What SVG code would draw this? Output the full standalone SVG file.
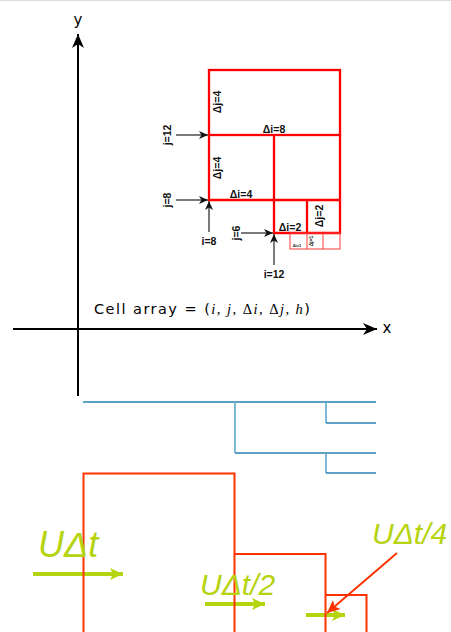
<svg xmlns="http://www.w3.org/2000/svg" width="451" height="632" viewBox="0 0 451 632">
<style>
.ax{stroke:#000;stroke-width:2;fill:none}
.ar{stroke:#222;stroke-width:1.2;fill:none}
.rd{stroke:#ff0000;stroke-width:2.3;fill:none}
.rdl{stroke:#ff3a3a;stroke-width:1;fill:none}
.lb{font-family:"Liberation Sans",Arial,sans-serif;font-size:10.5px;font-weight:bold;fill:#111;text-anchor:middle}
.tr{stroke-width:1.6;fill:none}
.hz{stroke:#2a80b2}
.vt{stroke:#5aaacd}
.og{stroke:#ff3300;stroke-width:2;fill:none}
.gr{stroke:#b5d30f;stroke-width:4;fill:none}
.gt{font-family:"Liberation Sans",Arial,sans-serif;font-style:italic;fill:#b5d30f}
</style>
<defs>
<marker id="axh" markerUnits="userSpaceOnUse" markerWidth="16" markerHeight="12" refX="14" refY="6" orient="auto">
<path d="M0,0 L14,6 L0,12 L4,6 z" fill="#000"/>
</marker>
<marker id="sh" markerUnits="userSpaceOnUse" markerWidth="10" markerHeight="8" refX="9" refY="4" orient="auto">
<path d="M0,0 L9,4 L0,8 L2.5,4 z" fill="#111"/>
</marker>
<marker id="gh" markerUnits="userSpaceOnUse" markerWidth="14" markerHeight="12" refX="13" refY="6" orient="auto">
<path d="M0,0 L13,6 L0,12 L3,6 z" fill="#b5d30f"/>
</marker>
<marker id="rh" markerUnits="userSpaceOnUse" markerWidth="14" markerHeight="12" refX="13" refY="6" orient="auto">
<path d="M0,0 L13,6 L0,12 L3,6 z" fill="#ff3300"/>
</marker>
</defs>
<rect width="451" height="632" fill="#fff"/>
<line x1="0" y1="0.5" x2="451" y2="0.5" stroke="#dddddd" stroke-width="1"/>

<g id="axes">
<line class="ax" x1="78" y1="396" x2="78" y2="34" marker-end="url(#axh)"/>
<line class="ax" x1="13" y1="329" x2="377" y2="329" marker-end="url(#axh)"/>
<text x="78" y="25" font-family="DejaVu Sans,Liberation Sans,sans-serif" font-size="15" text-anchor="middle">y</text>
<text x="387" y="333" font-family="DejaVu Sans,Liberation Sans,sans-serif" font-size="15" text-anchor="middle">x</text>
</g>

<g id="grid">
<rect class="rd" x="209" y="70" width="131" height="65"/>
<path class="rd" d="M209,135 V200 H340 M274,135 V233 H340 V135 M307,200 V233"/>
<rect class="rdl" x="290" y="233" width="50" height="16"/>
<path class="rdl" d="M307,233 V249 M323,233 V249"/>
</g>

<g id="grid-labels">
<text class="lb" transform="translate(221,102) rotate(-90)">Δj=4</text>
<text class="lb" x="274" y="133">Δi=8</text>
<text class="lb" transform="translate(171,135) rotate(-90)">j=12</text>
<text class="lb" transform="translate(221,168) rotate(-90)">Δj=4</text>
<text class="lb" transform="translate(171,200) rotate(-90)">j=8</text>
<text class="lb" x="241" y="198">Δi=4</text>
<text class="lb" x="209" y="245">i=8</text>
<text class="lb" transform="translate(240,233) rotate(-90)">j=6</text>
<text class="lb" x="290" y="231">Δi=2</text>
<text class="lb" transform="translate(323,216) rotate(-90)">Δj=2</text>
<text class="lb" x="274" y="278">i=12</text>
<text class="lb" x="297" y="247" style="font-size:4px">Δi=1</text>
<text class="lb" transform="translate(313,241) rotate(-90)" style="font-size:5px">Δj=1</text>
</g>

<g id="connectors">
<line class="ar" x1="176" y1="135" x2="208" y2="135" marker-end="url(#sh)"/>
<line class="ar" x1="176" y1="200" x2="208" y2="200" marker-end="url(#sh)"/>
<line class="ar" x1="209" y1="232" x2="209" y2="201" marker-end="url(#sh)"/>
<line class="ar" x1="241" y1="233" x2="273" y2="233" marker-end="url(#sh)"/>
<line class="ar" x1="274" y1="265" x2="274" y2="234" marker-end="url(#sh)"/>
<line class="gr" x1="33" y1="574" x2="123" y2="574" marker-end="url(#gh)"/>
<line class="gr" x1="205" y1="604" x2="265" y2="604" marker-end="url(#gh)"/>
<line class="gr" x1="306" y1="615" x2="345" y2="615" marker-end="url(#gh)"/>
<line x1="397" y1="553" x2="327" y2="613" stroke="#ff3300" stroke-width="2" marker-end="url(#rh)"/>
</g>

<g id="cell-array">
<text x="94" y="314" font-size="14.5" textLength="216" lengthAdjust="spacing"><tspan font-family="DejaVu Sans,Liberation Sans,sans-serif">Cell array = (</tspan><tspan font-family="Liberation Serif,serif" font-style="italic">i</tspan><tspan font-family="Liberation Serif,serif">, </tspan><tspan font-family="Liberation Serif,serif" font-style="italic">j</tspan><tspan font-family="Liberation Serif,serif">, Δ</tspan><tspan font-family="Liberation Serif,serif" font-style="italic">i</tspan><tspan font-family="Liberation Serif,serif">, Δ</tspan><tspan font-family="Liberation Serif,serif" font-style="italic">j</tspan><tspan font-family="Liberation Serif,serif">, </tspan><tspan font-family="Liberation Serif,serif" font-style="italic">h</tspan><tspan font-family="DejaVu Sans,Liberation Sans,sans-serif">)</tspan></text>
</g>

<g id="tree">
<line class="tr hz" x1="83" y1="402" x2="376" y2="402"/>
<line class="tr vt" x1="235" y1="402" x2="235" y2="453"/>
<line class="tr hz" x1="235" y1="453" x2="376" y2="453"/>
<line class="tr vt" x1="326" y1="402" x2="326" y2="423"/>
<line class="tr hz" x1="326" y1="423" x2="376" y2="423"/>
<line class="tr vt" x1="326" y1="453" x2="326" y2="473"/>
<line class="tr hz" x1="326" y1="473" x2="376" y2="473"/>
</g>

<g id="cells-bottom">
<path class="og" d="M83.5,632 V473.5 H234.5 V632"/>
<path class="og" d="M234.5,554 H325.5 V632"/>
<path class="og" d="M325.5,595 H366.5 V632"/>
</g>

<g id="velocity-labels">
<text class="gt" x="38" y="557" font-size="36">UΔt</text>
<text class="gt" x="200" y="595" font-size="30">UΔt/2</text>
<text class="gt" x="372" y="544" font-size="30">UΔt/4</text>
</g>
</svg>
